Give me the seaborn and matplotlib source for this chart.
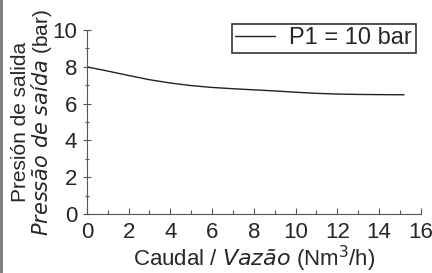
import matplotlib
matplotlib.use("Agg")
import matplotlib.pyplot as plt
import seaborn as sns
import pandas as pd
from matplotlib.ticker import MultipleLocator

# valores
caudal = [0, 1, 2, 3, 4, 5, 6, 7, 8, 9, 10, 11, 12, 13, 14, 15.2]
presion = [8.0, 7.77, 7.53, 7.3, 7.12, 6.98, 6.88, 6.81, 6.75, 6.69, 6.62, 6.56, 6.52, 6.5, 6.49, 6.48]
serie = "P1 = 10 bar"

df = pd.DataFrame({"caudal": caudal, "presion": presion, "serie": serie})

sns.set_theme(style="ticks")
plt.rcParams["font.family"] = ["Liberation Sans", "DejaVu Sans"]

fig = plt.figure(figsize=(4.32, 2.73), dpi=100)
ax = fig.add_axes([0.201, 0.216, 0.773, 0.674])

sns.lineplot(data=df, x="caudal", y="presion", hue="serie", palette=["#222222"],
             linewidth=1.0, ax=ax)

ax.set_xlim(0, 16)
ax.set_ylim(0, 10)
ax.xaxis.set_major_locator(MultipleLocator(2))
ax.xaxis.set_minor_locator(MultipleLocator(1))
ax.yaxis.set_major_locator(MultipleLocator(2))
ax.yaxis.set_minor_locator(MultipleLocator(1))
ax.tick_params(axis="x", which="major", direction="in", length=4, width=0.8,
               color="#555555", labelsize=16, pad=6)
ax.tick_params(axis="x", which="minor", direction="in", length=3, width=0.8, color="#555555")
ax.tick_params(axis="y", which="major", direction="inout", length=6, width=0.8,
               color="#555555", labelsize=16, pad=4)
ax.tick_params(axis="y", which="minor", direction="inout", length=3, width=0.8, color="#555555")
for s in ["top", "right"]:
    ax.spines[s].set_visible(False)
for s in ["left", "bottom"]:
    ax.spines[s].set_color("#555555")
    ax.spines[s].set_linewidth(0.8)

ax.set_xlabel("Caudal / $\\it{Vazão}$ (Nm$^3$/h)", fontsize=16, labelpad=0)
ax.set_ylabel("Presión de salida\n$\\it{Pressão\\ de\\ saída}$ (bar)", fontsize=15,
              labelpad=-1, linespacing=0.95)

leg = ax.legend(loc="upper right", bbox_to_anchor=(0.5, 1.035, 0.485, 0.0), frameon=True,
                fontsize=17, fancybox=False, handlelength=1.7, borderpad=0.15,
                handletextpad=0.6, borderaxespad=0.0)
leg.get_frame().set_edgecolor("black")
leg.get_frame().set_linewidth(1.2)

fig.add_artist(plt.Line2D([0.002, 0.002], [0, 1], color="#777777", linewidth=2))
fig.savefig("out.png", dpi=100)
